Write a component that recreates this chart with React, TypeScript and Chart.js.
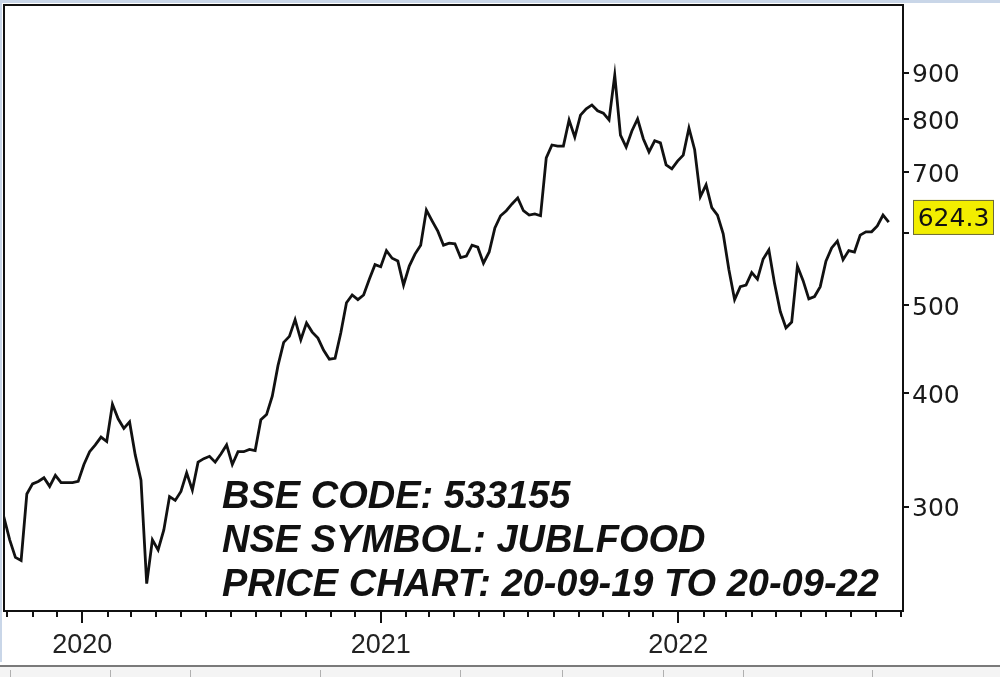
import React, { useEffect, useRef } from 'react';
import { Chart, registerables } from 'chart.js';

Chart.register(...registerables);

// ---- Data (weekly closes, week 0 = 2019-09-20) ----
const startDate = [2019, 8, 20]; // year, monthIndex, day
const weeklyClose = [
  292, 292, 276, 264, 262, 310, 318, 320, 323, 316,
  325, 319, 319, 319, 320, 334, 345, 351, 358, 354,
  389, 375, 366, 372, 342, 321, 247, 276, 269, 283,
  308, 305, 312, 327, 313, 336, 339, 341, 336, 343,
  351, 334, 345, 345, 347, 346, 374, 379, 397, 429,
  455, 462, 482, 458, 478, 467, 460, 446, 436, 437,
  466, 503, 513, 507, 513, 534, 554, 551, 574, 563,
  559, 526, 552, 569, 582, 636, 619, 603, 582, 585,
  584, 564, 566, 582, 579, 556, 572, 608, 627, 635,
  646, 656, 635, 628, 630, 627, 726, 750, 748, 748,
  799, 765, 809, 822, 830, 818, 813, 799, 895, 769,
  746, 777, 801, 762, 737, 758, 754, 713, 706, 720,
  731, 783, 741, 658, 678, 640, 628, 599, 547, 507,
  524, 526, 543, 534, 562, 575, 528, 492, 472, 479,
  552, 532, 508, 511, 524, 559, 578, 588, 561, 574,
  572, 597, 602, 602, 611, 628, 617,
];
const yTickValues = [300, 400, 500, 600, 700, 800, 900];
const hiddenYTickLabels = [600];
const lastPrice = 624.3;
const overlayLines = [
  'BSE CODE: 533155',
  'NSE SYMBOL: JUBLFOOD',
  'PRICE CHART: 20-09-19 TO 20-09-22',
];
const xMinWeek = 1;
const xMaxWeek = 158.5;
const yMin = 230.5;
const yMax = 1069;

type MonthTick = { value: number; label: string; major: boolean };

function buildMonthTicks(): MonthTick[] {
  const t0 = Date.UTC(startDate[0], startDate[1], startDate[2]);
  const out: MonthTick[] = [];
  for (let y = 2019; y <= 2022; y++) {
    for (let m = 0; m < 12; m++) {
      const w = (Date.UTC(y, m, 1) - t0) / (7 * 86400000);
      if (w >= xMinWeek && w <= xMaxWeek) {
        out.push({ value: w, label: m === 0 ? String(y) : '', major: m === 0 });
      }
    }
  }
  return out;
}

const monthTicks = buildMonthTicks();

function zeroPadding(s: any) {
  s.paddingLeft = 0;
  s.paddingRight = 0;
  s.paddingTop = 0;
  s.paddingBottom = 0;
}

const decorPlugin = {
  id: 'decor',
  beforeDraw(chart: any) {
    const { ctx, width } = chart;
    ctx.save();
    ctx.fillStyle = '#ffffff';
    ctx.fillRect(0, 0, chart.width, chart.height);
    // screenshot chrome: top band and left edge
    ctx.fillStyle = '#c9d6e8';
    ctx.fillRect(0, 0, width, 3);
    ctx.fillRect(0, 0, 2, 662);
    ctx.restore();
  },
  afterDraw(chart: any) {
    const { ctx, chartArea: a, scales } = chart;
    ctx.save();
    // frame
    ctx.strokeStyle = '#111';
    ctx.lineWidth = 2;
    ctx.strokeRect(a.left, a.top, a.right - a.left, a.bottom - a.top);
    // month ticks
    ctx.lineWidth = 2;
    monthTicks.forEach((t) => {
      const px = Math.round(scales.x.getPixelForValue(t.value));
      ctx.beginPath();
      ctx.moveTo(px, a.bottom);
      ctx.lineTo(px, a.bottom + (t.major ? 12 : 6));
      ctx.stroke();
    });
    // overlay text
    ctx.font = 'italic bold 38px "Liberation Sans", Arial, sans-serif';
    ctx.fillStyle = '#111';
    ctx.textBaseline = 'alphabetic';
    ctx.textAlign = 'left';
    overlayLines.forEach((s, i) => ctx.fillText(s, a.left + 218, 508 + i * 44));
    // last price tag
    const yp = scales.y.getPixelForValue(lastPrice);
    const bx = a.right + 10;
    const bw = 81;
    const bh = 35;
    ctx.fillStyle = '#f2ee00';
    ctx.fillRect(bx, yp - bh / 2, bw, bh);
    ctx.strokeStyle = '#6b6b3a';
    ctx.lineWidth = 1;
    ctx.strokeRect(bx + 0.5, yp - bh / 2 + 0.5, bw - 1, bh - 1);
    ctx.fillStyle = '#111';
    ctx.font = '25px "DejaVu Sans", sans-serif';
    ctx.textBaseline = 'middle';
    ctx.textAlign = 'center';
    ctx.fillText(lastPrice.toFixed(1), bx + bw / 2, yp + 2);
    // bottom chrome
    ctx.fillStyle = '#7a7a7a';
    ctx.fillRect(0, 665, chart.width, 2);
    ctx.fillStyle = '#f4f4f4';
    ctx.fillRect(0, 667, chart.width, 10);
    ctx.strokeStyle = '#b0b0b0';
    [10, 110, 190, 320, 460, 562, 663, 743, 872].forEach((x) => {
      ctx.beginPath();
      ctx.moveTo(x + 0.5, 670);
      ctx.lineTo(x + 0.5, 677);
      ctx.stroke();
    });
    ctx.restore();
  },
};

export default function App() {
  const ref = useRef<HTMLCanvasElement | null>(null);

  useEffect(() => {
    if (!ref.current) return;
    const points = weeklyClose.map((v, i) => ({ x: i, y: v }));
    const chart = new Chart(ref.current, {
      type: 'line',
      data: {
        datasets: [
          {
            data: points,
            borderColor: '#111',
            borderWidth: 2.8,
            pointRadius: 0,
            tension: 0,
            fill: false,
          },
        ],
      },
      options: {
        animation: false,
        responsive: false,
        devicePixelRatio: 1,
        layout: { padding: { top: 5, left: 4, right: 0, bottom: 0 } },
        plugins: { legend: { display: false }, tooltip: { enabled: false } },
        scales: {
          x: {
            type: 'linear',
            min: xMinWeek,
            max: xMaxWeek,
            afterBuildTicks: (s: any) => {
              s.ticks = monthTicks.map((t) => ({ value: t.value }));
            },
            afterFit: (s: any) => {
              s.height = 66;
              zeroPadding(s);
            },
            grid: { display: false, drawTicks: false },
            border: { display: false },
            ticks: {
              autoSkip: false,
              maxRotation: 0,
              padding: 18,
              color: '#222',
              font: { family: '"Liberation Sans", Arial, sans-serif', size: 27 },
              callback: (value: any) => {
                const t = monthTicks.find((m) => Math.abs(m.value - Number(value)) < 1e-6);
                return t ? t.label : '';
              },
            },
          },
          y: {
            type: 'logarithmic',
            position: 'right',
            min: yMin,
            max: yMax,
            afterBuildTicks: (s: any) => {
              s.ticks = yTickValues.map((v) => ({ value: v }));
            },
            afterFit: (s: any) => {
              s.width = 97;
              zeroPadding(s);
            },
            grid: { drawOnChartArea: false, drawTicks: true, tickLength: 6, color: '#111', lineWidth: 2 },
            border: { display: false },
            ticks: {
              padding: 3,
              labelOffset: 3,
              color: '#1a1a1a',
              font: { family: '"DejaVu Sans", sans-serif', size: 25 },
              callback: (value: any) =>
                hiddenYTickLabels.includes(Number(value)) ? '' : String(value),
            },
          },
        },
      },
      plugins: [decorPlugin],
    });
    return () => chart.destroy();
  }, []);

  return (
    <div style={{ position: 'fixed', left: 0, top: 0, width: 1000, height: 677, background: '#fff' }}>
      <canvas ref={ref} width={1000} height={677} style={{ display: 'block' }} />
    </div>
  );
}
